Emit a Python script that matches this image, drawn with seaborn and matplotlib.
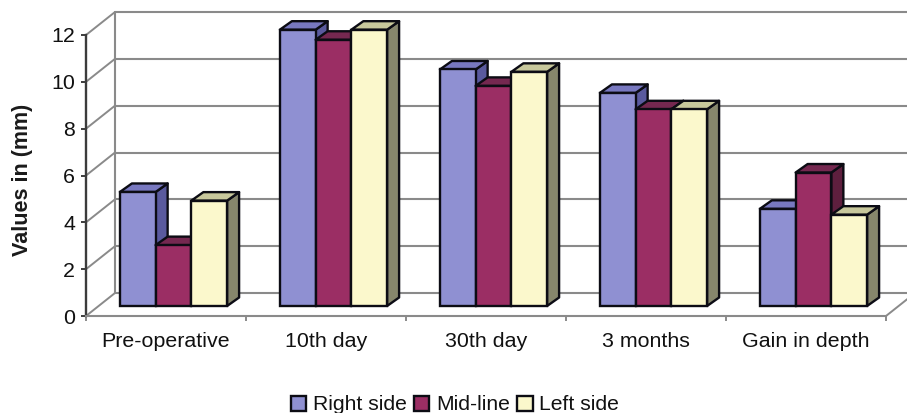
import numpy as np
import pandas as pd
import matplotlib
matplotlib.use("Agg")
import matplotlib.pyplot as plt
from matplotlib.patches import Polygon
from matplotlib.transforms import ScaledTranslation
import seaborn as sns

periods = ["Pre-operative", "10th day", "30th day", "3 months", "Gain in depth"]
sides = ["Right side", "Mid-line", "Left side"]
right_side = [4.87, 11.8, 10.1, 9.1, 4.15]
mid_line = [2.6, 11.37, 9.4, 8.4, 5.7]
left_side = [4.5, 11.8, 10.0, 8.4, 3.9]
y_ticks = [0, 2, 4, 6, 8, 10, 12]

front_colors = ["#8F90D2", "#9B2E64", "#FBF8CC"]
side_colors = ["#5A5A9E", "#5E1F3E", "#86866C"]
top_colors = ["#7878C0", "#752850", "#C8C89C"]

sns.set_theme(style="white")
plt.rcParams["font.family"] = ["Liberation Sans", "DejaVu Sans"]

W, H = 907, 413
fig = plt.figure(figsize=(W / 100, H / 100), dpi=100, facecolor="white")

# pixel layout of the front plane of the 3-D box
left, right, y0, y12 = 86, 886, 316, 35
ax = fig.add_axes([left / W, (H - y0) / H, (right - left) / W, (y0 - y12) / H])
ax.set_xlim(-0.5, 4.5)
ax.set_ylim(0, 12)
ax.patch.set_alpha(0)

# bars sit inside the box: shifted relative to the front plane
shift_x, shift_y = 7.5, 10
bx = fig.add_axes([(left + shift_x) / W, (H - y0 + shift_y) / H, (right - left) / W, (y0 - y12) / H])
bx.patch.set_alpha(0)

edge = "#0C0C14"
edge_w = 1.7

df = pd.DataFrame({
    "period": periods * 3,
    "side": np.repeat(sides, len(periods)),
    "value": right_side + mid_line + left_side,
})
sns.barplot(data=df, x="period", y="value", hue="side", hue_order=sides, order=periods,
            palette=front_colors, saturation=1, width=0.67, gap=0, errorbar=None,
            edgecolor=edge, linewidth=edge_w, ax=bx)
handles, labels = bx.get_legend_handles_labels()
bx.get_legend().remove()
bx.set_xlim(-0.5, 4.5)
bx.set_ylim(0, 12)
bx.set_axis_off()

# depth faces derived from each seaborn bar
px_x = 5 / (right - left)          # data units per pixel, x
px_y = 12 / (y0 - y12)             # data units per pixel, y
ddx, ddy = 12 * px_x, 8.5 * px_y
z = 3.0
for c in range(len(periods)):
    for s, cont in enumerate(bx.containers[:3]):
        bar = cont.patches[c]
        x0, w, h = bar.get_x(), bar.get_width(), bar.get_height()
        x1 = x0 + w
        side_face = Polygon([(x1, 0), (x1 + ddx, ddy), (x1 + ddx, h + ddy), (x1, h)], closed=True,
                            facecolor=side_colors[s], edgecolor=edge, lw=edge_w,
                            zorder=z, clip_on=False, joinstyle="round")
        top_face = Polygon([(x0, h), (x0 + ddx, h + ddy), (x1 + ddx, h + ddy), (x1, h)], closed=True,
                           facecolor=top_colors[s], edgecolor=edge, lw=edge_w,
                           zorder=z, clip_on=False, joinstyle="round")
        bx.add_patch(side_face)
        bx.add_patch(top_face)
        bar.set_zorder(z + 0.1)
        bar.set_clip_on(False)
        z += 1

# walls: gridlines on the back plane, joined to the front axis by diagonals
wall = "#8A8A8A"
back = ax.transData + ScaledTranslation(29 / 100, 23 / 100, fig.dpi_scale_trans)
for t in y_ticks:
    ax.plot([-0.5, 4.5], [t, t], color=wall, lw=1.5, transform=back, clip_on=False, zorder=1)
    p0 = ax.transData.transform((-0.5, t))
    p1 = back.transform((-0.5, t))
    ax.plot([p0[0], p1[0]], [p0[1], p1[1]], color=wall, lw=1.4,
            transform=None, clip_on=False, zorder=1)
ax.plot([-0.5, -0.5], [0, 12], color=wall, lw=1.5, transform=back, clip_on=False, zorder=1)
p0 = ax.transData.transform((4.5, 0))
p1 = back.transform((4.5, 0))
ax.plot([p0[0], p1[0]], [p0[1], p1[1]], color=wall, lw=1.4, transform=None, clip_on=False, zorder=1)

sns.despine(ax=ax, top=True, right=True)
ax.spines["left"].set_color("#3C3C3C")
ax.spines["left"].set_linewidth(1.7)
ax.spines["bottom"].set_color("#8A8A8A")
ax.spines["bottom"].set_linewidth(1.5)

ax.set_yticks(y_ticks)
ax.set_xticks(range(len(periods)))
ax.set_xticklabels(periods)
ax.set_xticks(np.arange(-0.5, 5), minor=True)
ax.tick_params(axis="x", which="major", length=0, pad=11.5, labelsize=15.4, labelcolor="#111111")
ax.tick_params(axis="x", which="minor", length=3.5, width=1.2, color="#777777", bottom=True)
ax.tick_params(axis="y", which="major", length=3.5, width=1.4, color="#3C3C3C", left=True,
               pad=4.5, labelsize=15.4, labelcolor="#111111")
for lab in ax.get_yticklabels():
    lab.set_y(lab.get_position()[1])
ax.set_xlabel("")
ax.set_ylabel("Values in (mm)", fontsize=15.5, fontweight="bold", color="#1A1A1A")
ax.yaxis.set_label_coords((33 - left) / (right - left), (y0 - 180) / (y0 - y12))

fig.legend(handles, labels, loc="center", bbox_to_anchor=(455 / W, (H - 405) / H), ncol=3,
           frameon=False, fontsize=15.2, handlelength=0.72, handleheight=0.72, handletextpad=0.32,
           columnspacing=0.35, borderpad=0, labelcolor="#111111")

fig.savefig("out.png", dpi=100, facecolor="white")
